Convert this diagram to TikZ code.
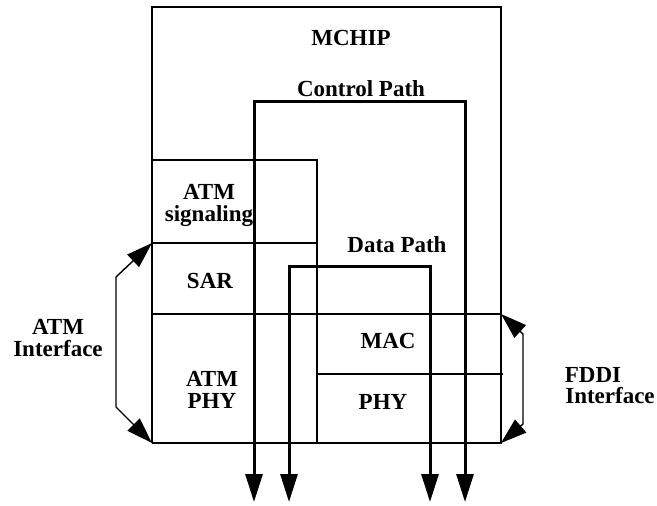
\documentclass[tikz,border=0pt]{standalone}
\usepackage{fontspec}
\setmainfont{Liberation Serif}
\usetikzlibrary{arrows.meta}
\begin{document}
\begin{tikzpicture}[x=1pt,y=-1pt,
  boxline/.style={line width=1.4pt},
  pathline/.style={line width=3pt},
  lbl/.style={font=\bfseries\fontsize{23}{22}\selectfont, align=center, inner sep=0pt},
  bigtip/.style={{Triangle[length=28pt,width=17pt]}-{Triangle[length=28pt,width=17pt]}},
  iftip/.style={{Triangle[length=26pt,width=17pt]}-{Triangle[length=26pt,width=17pt]}}]
\useasboundingbox (0,0) rectangle (657,506);
% coordinates of the chip outline
\coordinate (tl) at (152,7);
\coordinate (tr) at (501,7);
\coordinate (mr) at (501,314);
\coordinate (ml) at (152,314);
\coordinate (bl) at (152,443);
\coordinate (br) at (501,443);
\coordinate (sigTL) at (152,160);
\coordinate (sigTR) at (317,160);
\coordinate (sarL) at (152,243);
\coordinate (sarR) at (317,243);
\coordinate (divB) at (317,443);
\coordinate (macL) at (317,374);
\coordinate (macR) at (503,374);
% outline
\draw[boxline] (bl) -- (tl) -- (tr) -- (br) -- (bl);
\draw[boxline] (sigTL) -- (sigTR) -- (divB);
\draw[boxline] (sarL) -- (sarR);
\draw[boxline] (ml) -- (mr);
\draw[boxline] (macL) -- (macR);
% control path
\coordinate (c1) at (254,502);
\coordinate (c2) at (254,101);
\coordinate (c3) at (465,101);
\coordinate (c4) at (465,502);
\draw[pathline, bigtip] (c1) -- (c2) -- (c3) -- (c4);
% data path
\coordinate (d1) at (289,502);
\coordinate (d2) at (289,266);
\coordinate (d3) at (430,266);
\coordinate (d4) at (430,502);
\draw[pathline, bigtip] (d1) -- (d2) -- (d3) -- (d4);
% ATM interface
\coordinate (a1) at (116,277);
\coordinate (a2) at (116,407);
\draw[boxline, iftip] (sarL) -- (a1) -- (a2) -- (bl);
% FDDI interface
\coordinate (f1) at (523,334);
\coordinate (f2) at (523,424);
\draw[boxline, iftip] (mr) -- (f1) -- (f2) -- (br);
% labels
\node[lbl] (mchip) at (351,38) {MCHIP};
\node[lbl] (ctrl) at (361,89) {Control Path};
\node[lbl] (sig) at (209,205) {ATM\\signaling};
\node[lbl] (sar) at (210,281) {SAR};
\node[lbl] (data) at (397,245) {Data Path};
\node[lbl] (mac) at (388,341) {MAC};
\node[lbl] (phy) at (383,402) {PHY};
\node[lbl] (atmphy) at (212,390) {ATM\\PHY};
\node[lbl] (atmif) at (58,338) {ATM\\Interface};
\node[lbl] (fddi) at (593,375) {FDDI};
\node[lbl] (fddiif) at (610,396) {Interface};
\end{tikzpicture}
\end{document}
